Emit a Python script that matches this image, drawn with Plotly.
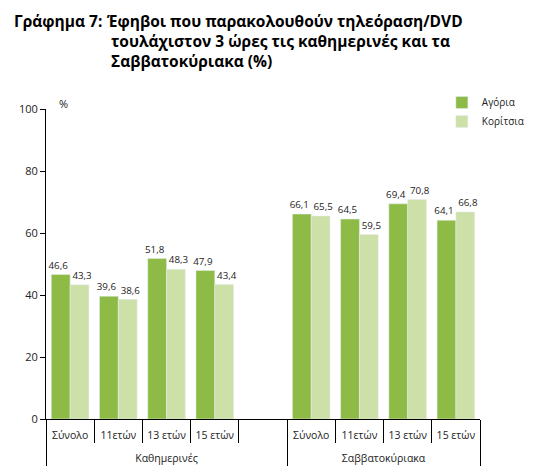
import plotly.graph_objects as go

# two groups of age categories; the blank slot keeps the gap between groups
periods = ["<br>Καθημερινές"] * 5 + ["<br>Σαββατοκύριακα"] * 4
ages = ["Σύνολο", "11ετών", "13 ετών", "15 ετών", " ",
        "Σύνολο", "11ετών", "13 ετών", "15 ετών"]

boys = [46.6, 39.6, 51.8, 47.9, None, 66.1, 64.5, 69.4, 64.1]
girls = [43.3, 38.6, 48.3, 43.4, None, 65.5, 59.5, 70.8, 66.8]

title_lines = ["Έφηβοι που παρακολουθούν τηλεόραση/DVD",
               "τουλάχιστον 3 ώρες τις καθημερινές και τα",
               "Σαββατοκύριακα (%)"]

font = "Open Sans"
W, H = 533, 467          # page body adds an 8px offset
L, R, T, B = 38, 51, 101, 56
pw, ph = W - L - R, H - T - B
nb = "\u00a0\u00a0"      # nudges paired labels apart a little


def px_x(x):
    return (x - L) / pw


def px_y(y):
    return 1 + (T - y) / ph


fig = go.Figure()
fig.add_trace(go.Bar(
    x=[periods, ages], y=boys, name="Αγόρια",
    marker_color="#8DBB45",
    texttemplate="%{y:.1f}" + nb, textposition="outside",
    textfont=dict(size=10.5, color="#222222"), cliponaxis=False,
))
fig.add_trace(go.Bar(
    x=[periods, ages], y=girls, name="Κορίτσια",
    marker_color="#CDE0A8",
    texttemplate=nb + "%{y:.1f}", textposition="outside",
    textfont=dict(size=10.5, color="#222222"), cliponaxis=False,
))

fig.update_layout(
    width=W, height=H,
    margin=dict(l=L, r=R, t=T, b=B),
    plot_bgcolor="white", paper_bgcolor="white",
    font=dict(family=font, size=10.5, color="#222222"),
    separators=",.",
    barmode="group", bargap=0.22, bargroupgap=0,
    showlegend=True,
    legend=dict(x=px_x(532), y=px_y(80), xanchor="right", yanchor="top",
                font=dict(size=10), itemwidth=30, tracegroupgap=0,
                bgcolor="rgba(0,0,0,0)"),
    uniformtext=dict(minsize=9, mode="show"),
)
fig.update_xaxes(
    type="multicategory", showline=True, linecolor="black", linewidth=1,
    ticks="outside", tickson="boundaries", ticklen=23, tickcolor="black",
    showdividers=True, dividercolor="black", dividerwidth=1,
    showgrid=False, tickfont=dict(size=10.5), tickangle=0, automargin=False,
    ticklabelstandoff=6,
)
fig.update_yaxes(
    range=[0, 100], dtick=20, showline=True, linecolor="black", linewidth=1,
    ticks="outside", ticklen=5, tickcolor="black", showgrid=False,
    zeroline=False, tickfont=dict(size=11), automargin=False,
)

fig.add_annotation(text="%", x=px_x(49), y=px_y(95), xref="paper", yref="paper",
                   xanchor="left", yanchor="middle", showarrow=False,
                   font=dict(size=11))
fig.add_annotation(
    text="<b>Γράφημα 7:</b>", x=px_x(3), y=px_y(0), xref="paper", yref="paper",
    xanchor="left", yanchor="top", showarrow=False,
    font=dict(size=15.5, family=font, color="black"))
for line, lx, ly in zip(title_lines, [98, 102, 102], [0, 20, 40]):
    fig.add_annotation(
        text="<b>" + line + "</b>", x=px_x(lx), y=px_y(ly),
        xref="paper", yref="paper", xanchor="left", yanchor="top",
        showarrow=False, font=dict(size=15.5, family=font, color="black"))

fig.write_html("out.html")
